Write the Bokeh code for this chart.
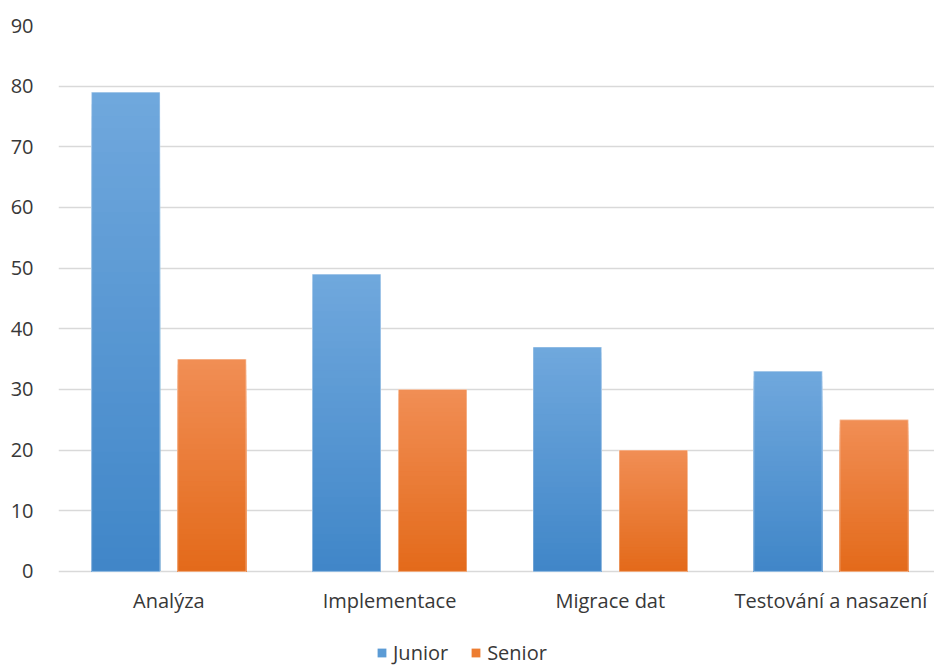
import numpy as np
from bokeh.plotting import figure
from bokeh.models import (ColumnDataSource, FixedTicker, Legend, LegendItem, Range1d)
from bokeh.core.properties import value
from bokeh.embed import file_html
from bokeh.resources import INLINE

# ---- data ----
categories = ["Analýza", "Implementace", "Migrace dat", "Testování a nasazení"]
junior = [79, 49, 37, 33]
senior = [35, 30, 20, 25]
y_ticks = [0, 10, 20, 30, 40, 50, 60, 70, 80, 90]
series_names = ["Junior", "Senior"]

# ---- style ----
FONT = "Open Sans"
FSIZE = "20px"
TEXT = "#383838"
GRID = "#D9D9D9"
JUNIOR_TOP, JUNIOR_BOT = (0x70, 0xA8, 0xDD), (0x40, 0x86, 0xC8)
SENIOR_TOP, SENIOR_BOT = (0xF1, 0x8E, 0x55), (0xE3, 0x6A, 0x1A)
SOLID_COL = ["#5B9BD5", "#ED7D31"]
BAR_W = 0.31
OFFSET = 0.195
N_SLICES = 40

# the frame reaches the bottom of the page; the space below 0 holds the
# category labels and the legend
p = figure(width=934, height=666,
           x_range=Range1d(0, 3.969), y_range=Range1d(-15.67, 90),
           output_backend="svg", toolbar_location=None,
           x_axis_location=None,
           min_border_left=58, min_border_right=0,
           min_border_top=25, min_border_bottom=0,
           background_fill_color="white", border_fill_color="white",
           outline_line_color=None)

def hexc(c):
    return "#%02x%02x%02x" % tuple(int(round(v)) for v in c)

def gradient_source(values, offset, top_c, bot_c):
    # nested bars, drawn from the full bar down to the smallest one,
    # so that each later (darker) one covers the lower part of the previous
    xs, tops, colors = [], [], []
    for k in range(N_SLICES - 1, -1, -1):
        t = (k + 0.5) / N_SLICES
        c = hexc([bot_c[j] + (top_c[j] - bot_c[j]) * t for j in range(3)])
        for i, v in enumerate(values):
            xs.append(i + 0.5 + offset)
            tops.append(v * (k + 1) / N_SLICES)
            colors.append(c)
    return ColumnDataSource(dict(x=xs, top=tops, color=colors))

leg_items = []
for name, vals, off, tc, bc, solid in [(series_names[0], junior, -OFFSET, JUNIOR_TOP, JUNIOR_BOT, SOLID_COL[0]),
                                       (series_names[1], senior, OFFSET, SENIOR_TOP, SENIOR_BOT, SOLID_COL[1])]:
    base = ColumnDataSource(dict(x=[i + 0.5 + off for i in range(len(vals))], top=vals))
    r = p.vbar(x="x", top="top", bottom=0, width=BAR_W, source=base,
               fill_color=solid, line_color=None)
    leg_items.append(LegendItem(label=name, renderers=[r]))
    src = gradient_source(vals, off, tc, bc)
    p.vbar(x="x", bottom=0, top="top", width=BAR_W, source=src,
           fill_color="color", line_color=None)
    p.vbar(x="x", top="top", bottom=0, width=BAR_W, source=base,
           fill_color=None, line_color="white", line_alpha=0.45, line_width=1)

# category labels under the baseline
cat_src = ColumnDataSource(dict(x=[i + 0.5 for i in range(len(categories))],
                                y=[0] * len(categories), text=categories))
p.text(x="x", y="y", text="text", source=cat_src, y_offset=29,
       text_align="center", text_baseline="middle",
       text_font=value(FONT), text_font_size=FSIZE, text_color=TEXT)

legend = Legend(items=leg_items, orientation="horizontal", location=(318, 0),
                padding=0, margin=0,
                glyph_width=11, glyph_height=11, label_standoff=6, spacing=22,
                label_text_font=FONT, label_text_font_size=FSIZE,
                label_text_color=TEXT, label_height=14,
                background_fill_alpha=0, border_line_color=None)
p.add_layout(legend, "center")

p.yaxis.ticker = FixedTicker(ticks=y_ticks)
p.yaxis.axis_line_color = None
p.yaxis.major_tick_line_color = None
p.yaxis.minor_tick_line_color = None
p.yaxis.major_label_standoff = 19
p.yaxis.major_label_text_font = FONT
p.yaxis.major_label_text_font_size = FSIZE
p.yaxis.major_label_text_color = TEXT

p.xgrid.grid_line_color = None
p.ygrid.grid_line_color = GRID
p.ygrid.grid_line_width = 1.5

open("out.html", "w").write(file_html(p, INLINE))
